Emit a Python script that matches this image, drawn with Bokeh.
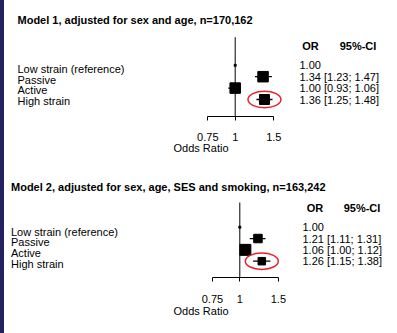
import math
from bokeh.plotting import figure
from bokeh.models import (Range1d, FixedTicker, CustomJSTickFormatter,
                          ColumnDataSource, Spacer, LogAxis)
from bokeh.layouts import row, column
from bokeh.core.properties import value
from bokeh.embed import file_html
from bokeh.resources import INLINE

# ---------------- data ----------------
categories = ["Low strain (reference)", "Passive", "Active", "High strain"]

m1_title = "Model 1, adjusted for sex and age, n=170,162"
m1_or = [1.00, 1.34, 1.00, 1.36]
m1_lo = [1.00, 1.23, 0.93, 1.25]
m1_hi = [1.00, 1.47, 1.06, 1.48]

m2_title = "Model 2, adjusted for sex, age, SES and smoking, n=163,242"
m2_or = [1.00, 1.21, 1.06, 1.26]
m2_lo = [1.00, 1.11, 1.00, 1.15]
m2_hi = [1.00, 1.31, 1.12, 1.38]

tick_values = [0.75, 1, 1.5]
null_value = 1.0
highlight = "High strain"
x_label = "Odds Ratio"
hdr_or = "OR"
hdr_ci = "95%-CI"

# ---------------- style / layout ----------------
FONT = "Liberation Sans"
FS = "11px"
BAR_W = 4
PAGE_W = 397
FRAME_W = PAGE_W - BAR_W

m1_box_px = [2, 10.5, 10.5, 10]
m2_box_px = [2, 8.5, 11, 7.5]

geom1 = dict(frame_h=116, bottom=50, one_px=234.7, k=95.2, y0px=64.8, rowpx=11.4,
             label_x=17, label_y0=68.3, label_dy=10.8, title_y=19, header_y=45,
             or_hdr_cx=310, ci_hdr_cx=357.5, val_x=299, vline_top=36.7,
             standoff=12, label_standoff=-2)
geom2 = dict(frame_h=111, bottom=56, one_px=239.3, k=95.2, y0px=60.7, rowpx=11.33,
             label_x=10.5, label_y0=65, label_dy=10.8, title_y=20.7, header_y=41.3,
             or_hdr_cx=314.5, ci_hdr_cx=361.5, val_x=302, vline_top=36,
             standoff=13, label_standoff=-1)


def make_panel(title, ors, los, his, box_px, g):
    def px2x(px):
        return math.exp((px - g["one_px"]) / g["k"])

    def py2y(py):
        return (py - g["y0px"]) / g["rowpx"]

    p = figure(frame_width=FRAME_W, frame_height=g["frame_h"],
               x_axis_type="log", y_axis_location=None,
               toolbar_location=None, output_backend="svg",
               min_border_left=0, min_border_right=0, min_border_top=0,
               min_border_bottom=g["bottom"])
    p.x_range = Range1d(px2x(BAR_W), px2x(PAGE_W))
    p.y_range = Range1d(py2y(g["frame_h"]), py2y(0))
    p.outline_line_color = None
    p.grid.visible = False
    p.background_fill_color = "white"
    p.border_fill_color = "white"

    rows = list(range(len(categories)))
    src = ColumnDataSource(dict(
        cat=categories, row=rows, orv=ors, lo=los, hi=his, size=box_px,
        txt=[f"{o:.2f}" if l == h else f"{o:.2f} [{l:.2f}; {h:.2f}]"
             for o, l, h in zip(ors, los, his)],
        vx=[px2x(g["val_x"])] * len(rows),
    ))

    # reference line
    p.segment(x0=[null_value], x1=[null_value], y0=[py2y(g["vline_top"])],
              y1=[py2y(g["frame_h"])], line_color="black", line_width=1)
    # CI whiskers and boxes
    p.segment(x0="lo", x1="hi", y0="row", y1="row", source=src,
              line_color="black", line_width=1.3)
    p.scatter(x="orv", y="row", size="size", marker="square", source=src,
              fill_color="black", line_color="black")

    # highlight ellipse
    hi_i = categories.index(highlight)
    p.ellipse(x=[ors[hi_i]], y=[rows[hi_i]], width=33, height=16.5,
              width_units="screen", height_units="screen",
              fill_color=None, line_color="#e8202a", line_width=1.5)

    # title
    p.text(x=[px2x(g["label_x"])], y=[py2y(g["title_y"])], text=[title],
           text_font=value(FONT), text_font_size=FS, text_font_style="bold",
           text_align="left", text_baseline="middle", text_color="black")
    # category labels
    p.text(x=[px2x(g["label_x"])] * len(rows),
           y=[py2y(g["label_y0"] + i * g["label_dy"]) for i in rows],
           text=categories, text_font=value(FONT), text_font_size=FS,
           text_align="left", text_baseline="middle", text_color="black")
    # headers
    p.text(x=[px2x(g["or_hdr_cx"]), px2x(g["ci_hdr_cx"])],
           y=[py2y(g["header_y"])] * 2, text=[hdr_or, hdr_ci],
           text_font=value(FONT), text_font_size=FS, text_font_style="bold",
           text_align="center", text_baseline="middle", text_color="black")
    # values
    p.text(x="vx", y="row", text="txt", source=src,
           text_font=value(FONT), text_font_size=FS,
           text_align="left", text_baseline="middle", text_color="black")

    ax = p.xaxis[0]
    ax.ticker = FixedTicker(ticks=tick_values, minor_ticks=[])
    ax.formatter = CustomJSTickFormatter(code="return String(tick);")
    ax.bounds = (min(tick_values), max(tick_values))
    ax.axis_line_color = "black"
    ax.major_tick_line_color = "black"
    ax.major_tick_in = 0
    ax.major_tick_out = 4
    ax.minor_tick_line_color = None
    ax.major_label_standoff = g["standoff"]
    ax.major_label_text_font = FONT
    ax.major_label_text_font_size = FS
    ax.major_label_text_color = "black"

    # second (label-only) axis, centred on the null value
    lab = LogAxis(ticker=FixedTicker(ticks=[], minor_ticks=[]),
                  bounds=(null_value * 0.999, null_value / 0.999),
                  axis_label=x_label, axis_label_standoff=g["label_standoff"],
                  axis_label_text_font=FONT, axis_label_text_font_size=FS,
                  axis_label_text_font_style="normal",
                  axis_label_text_color="black",
                  axis_line_color=None, major_tick_line_color=None,
                  minor_tick_line_color=None, major_tick_in=0, major_tick_out=0,
                  major_label_standoff=0)
    p.add_layout(lab, "below")
    return p


f1 = make_panel(m1_title, m1_or, m1_lo, m1_hi, m1_box_px, geom1)
f2 = make_panel(m2_title, m2_or, m2_lo, m2_hi, m2_box_px, geom2)

bar = Spacer(width=BAR_W, height=geom1["frame_h"] + geom1["bottom"] +
             geom2["frame_h"] + geom2["bottom"],
             styles={"background-color": "#23215f"})

p = row(bar, column(f1, f2, spacing=0), spacing=0)

open("out.html", "w").write(file_html(p, INLINE))
